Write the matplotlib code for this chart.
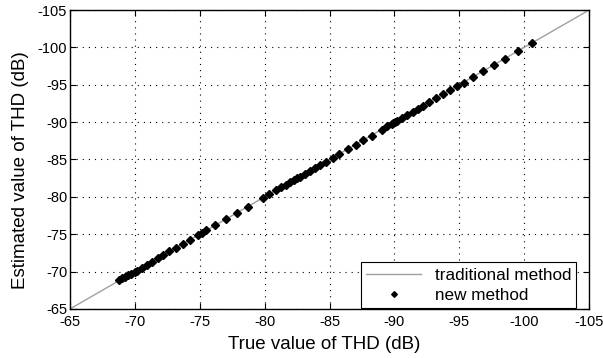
import numpy as np
import matplotlib
matplotlib.use('Agg')
import matplotlib.pyplot as plt

plt.rcParams['font.family'] = ['Liberation Sans', 'DejaVu Sans']
plt.rcParams['axes.unicode_minus'] = False

# reference line (ideal estimate)
ref_line = [-65, -105]

# true THD values of the test signals (dB)
thd_true = [-68.8, -69.03, -69.24, -69.49, -69.70, -69.98, -70.14, -70.52, -70.91,
            -71.32, -71.76, -72.19, -72.65, -73.17, -73.73, -74.24, -74.88, -75.15,
            -75.48, -76.17, -77.0, -77.84, -78.69, -79.89, -80.35, -80.87, -81.26,
            -81.62, -81.95, -82.26, -82.5, -82.72, -83.1, -83.49, -83.87, -84.26,
            -84.72, -85.24, -85.75, -86.44, -87.03, -87.6, -88.24, -89.01, -89.45,
            -89.78, -89.91, -90.04, -90.22, -90.55, -90.94, -91.4, -91.83, -92.22,
            -92.68, -93.2, -93.71, -94.28, -94.79, -95.35, -96.07, -96.84, -97.69,
            -98.51, -99.49, -100.6]
# estimated THD with the new method (dB)
thd_est = [-68.9, -69.1, -69.3, -69.5, -69.7, -69.9, -70.1, -70.5, -70.9,
           -71.3, -71.8, -72.2, -72.7, -73.2, -73.7, -74.2, -74.9, -75.2,
           -75.5, -76.2, -77.0, -77.8, -78.7, -79.9, -80.4, -80.9, -81.3,
           -81.6, -82.0, -82.3, -82.5, -82.7, -83.1, -83.5, -83.9, -84.3,
           -84.7, -85.2, -85.7, -86.4, -87.0, -87.6, -88.2, -89.0, -89.5,
           -89.8, -89.9, -90.0, -90.2, -90.6, -90.9, -91.4, -91.8, -92.2,
           -92.7, -93.2, -93.7, -94.3, -94.8, -95.3, -96.1, -96.8, -97.7,
           -98.5, -99.5, -100.6]

ticks = np.arange(-65, -106, -5)

fig = plt.figure(figsize=(6.03, 3.58), dpi=100)
ax = fig.add_axes([0.116, 0.137, 0.861, 0.835])

ax.plot(ref_line, ref_line, color='#a0a0a0', linewidth=1, label='traditional method')
ax.plot(thd_true, thd_est, linestyle='none', marker='D', markersize=3.6,
        color='black', label='new method')

ax.set_xlim(-65, -105)
ax.set_ylim(-65, -105)
ax.set_xticks(ticks)
ax.set_yticks(ticks)
ax.tick_params(direction='in', top=True, right=True, labelsize=10.5, length=4, pad=2)
ax.tick_params(axis='x', pad=4)
ax.grid(True, linestyle=(0, (1, 4.5)), color='black', linewidth=0.8)
for s in ax.spines.values():
    s.set_linewidth(1)

ax.set_xlabel('True value of THD (dB)', fontsize=13.5)
ax.xaxis.set_label_coords(0.49, -0.09)
ax.set_ylabel('Estimated value of THD (dB)', fontsize=13.5)
ax.yaxis.set_label_coords(-0.078, 0.465)

leg = ax.legend(loc='lower right', bbox_to_anchor=(0.975, 0.004), fontsize=12.3,
                fancybox=False, framealpha=1, edgecolor='black', borderaxespad=0,
                handlelength=3.2, markerscale=0.8, borderpad=0.3, labelspacing=0.3)
leg.get_frame().set_linewidth(0.8)

plt.savefig('out.png', dpi=100)
